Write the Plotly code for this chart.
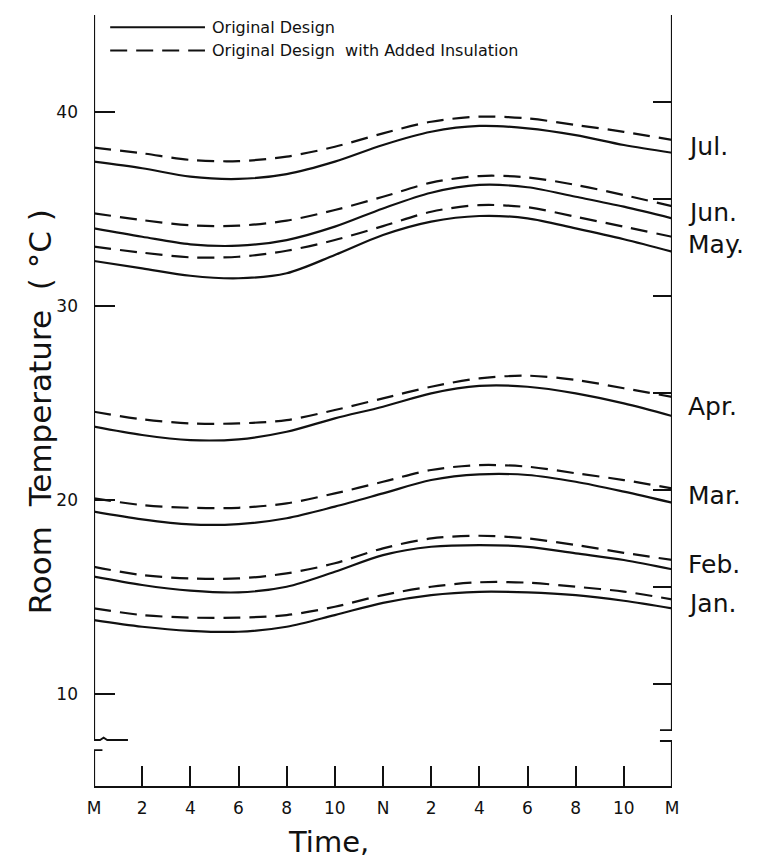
import plotly.graph_objects as go

# ---------------- data ----------------
hours = [0, 2, 4, 6, 8, 10, 12, 14, 16, 18, 20, 22, 24]
x_tick_text = ["M", "2", "4", "6", "8", "10", "N", "2", "4", "6", "8", "10", "M"]
y_tick_vals = [10, 20, 30, 40]
right_tick_vals = [10, 15, 20, 25, 30, 35, 40]

months = ["Jul.", "Jun.", "May.", "Apr.", "Mar.", "Feb.", "Jan."]

jul_orig = [37.44, 37.10, 36.67, 36.55, 36.80, 37.44, 38.30, 38.98, 39.28, 39.16, 38.81, 38.30, 37.90]
jul_ins  = [38.16, 37.87, 37.53, 37.47, 37.70, 38.21, 38.90, 39.50, 39.76, 39.67, 39.33, 38.98, 38.56]
jun_orig = [34.00, 33.57, 33.18, 33.11, 33.40, 34.09, 35.03, 35.84, 36.24, 36.12, 35.63, 35.12, 34.52]
jun_ins  = [34.78, 34.43, 34.16, 34.14, 34.40, 34.95, 35.63, 36.36, 36.70, 36.63, 36.24, 35.72, 35.15]
may_orig = [32.32, 31.94, 31.56, 31.43, 31.69, 32.63, 33.66, 34.35, 34.64, 34.52, 34.00, 33.44, 32.80]
may_ins  = [33.06, 32.75, 32.51, 32.54, 32.85, 33.40, 34.12, 34.86, 35.20, 35.09, 34.60, 34.09, 33.57]
apr_orig = [23.78, 23.35, 23.09, 23.13, 23.52, 24.21, 24.81, 25.50, 25.88, 25.84, 25.50, 24.98, 24.33]
apr_ins  = [24.55, 24.16, 23.95, 23.95, 24.12, 24.64, 25.24, 25.84, 26.27, 26.41, 26.19, 25.76, 25.32]
mar_orig = [19.40, 19.00, 18.74, 18.76, 19.06, 19.66, 20.34, 21.03, 21.32, 21.29, 20.94, 20.43, 19.86]
mar_ins  = [20.09, 19.74, 19.60, 19.60, 19.83, 20.34, 20.94, 21.55, 21.80, 21.72, 21.38, 21.03, 20.60]
feb_orig = [16.05, 15.62, 15.33, 15.24, 15.53, 16.30, 17.16, 17.59, 17.68, 17.59, 17.25, 16.91, 16.43]
feb_ins  = [16.56, 16.13, 15.96, 15.96, 16.22, 16.74, 17.51, 18.02, 18.16, 18.02, 17.68, 17.28, 16.91]
jan_orig = [13.81, 13.47, 13.26, 13.21, 13.47, 14.07, 14.70, 15.10, 15.27, 15.24, 15.10, 14.81, 14.42]
jan_ins  = [14.42, 14.07, 13.94, 13.94, 14.07, 14.50, 15.10, 15.53, 15.76, 15.74, 15.53, 15.28, 14.88]

series_orig = [jul_orig, jun_orig, may_orig, apr_orig, mar_orig, feb_orig, jan_orig]
series_ins = [jul_ins, jun_ins, may_ins, apr_ins, mar_ins, feb_ins, jan_ins]

legend_labels = ["Original Design", "Original Design  with Added Insulation"]

# ---------------- figure ----------------
FONT = "DejaVu Sans"
INK = "#111111"
Y_RANGE = [5.26, 45.0]
X_RANGE = [0, 24]
DASH = "17px,9px"

fig = go.Figure()

for o, i, m in zip(series_orig, series_ins, months):
    fig.add_trace(go.Scatter(
        x=hours, y=i, mode="lines", name=m + " insulated",
        line=dict(color=INK, width=2.2, dash=DASH, shape="spline", smoothing=0.9),
        showlegend=False, hoverinfo="skip"))
    fig.add_trace(go.Scatter(
        x=hours, y=o, mode="lines", name=m + " original",
        line=dict(color=INK, width=2.2, shape="spline", smoothing=0.9),
        showlegend=False, hoverinfo="skip"))

# empty trace so the right-hand tick axis is drawn
fig.add_trace(go.Scatter(x=[], y=[], yaxis="y2", showlegend=False, hoverinfo="skip"))

# month labels at the right end of each pair of curves
annotations = []
for o, i, m in zip(series_orig, series_ins, months):
    annotations.append(dict(
        x=1.0, xref="paper", xshift=14, y=(o[-1] + i[-1]) / 2, yref="y",
        text=m, showarrow=False, xanchor="left", yanchor="middle",
        font=dict(family=FONT, size=25, color=INK)))

# axis titles
annotations.append(dict(
    x=-0.093, xref="paper", y=0.485, yref="paper",
    text="Room  Temperature  ( °C )", textangle=-90, showarrow=False,
    xanchor="center", yanchor="middle",
    font=dict(family=FONT, size=31, color=INK)))
annotations.append(dict(
    x=0.405, xref="paper", y=-0.072, yref="paper",
    text="Time,", showarrow=False, xanchor="center", yanchor="middle",
    font=dict(family=FONT, size=29, color=INK)))

# legend (drawn by hand: long sample lines)
leg_y = [0.984, 0.954]
for lab, ly in zip(legend_labels, leg_y):
    annotations.append(dict(
        x=0.2, xref="paper", y=ly, yref="paper", text=lab, showarrow=False,
        xanchor="left", yanchor="middle",
        font=dict(family=FONT, size=16, color=INK)))

shapes = []
for ly, dash in zip(leg_y, ["solid", DASH]):
    shapes.append(dict(type="line", xref="paper", yref="paper",
                       x0=0.028, x1=0.192, y0=ly, y1=ly,
                       line=dict(color=INK, width=2, dash=dash)))

# vertical axis lines with breaks
LB_UP, LB_LO = 7.63, 7.11
RB_UP, RB_LO = 8.14, 7.58
axis_line = dict(color=INK, width=2.2)
shapes += [
    dict(type="line", xref="x", yref="y", x0=0, x1=0, y0=Y_RANGE[1], y1=LB_UP, line=axis_line),
    dict(type="line", xref="x", yref="y", x0=0, x1=0, y0=LB_LO, y1=Y_RANGE[0], line=axis_line),
    dict(type="line", xref="x", yref="y", x0=24, x1=24, y0=Y_RANGE[1] + 0.2, y1=RB_UP, line=axis_line),
    dict(type="line", xref="x", yref="y", x0=24, x1=24, y0=RB_LO, y1=Y_RANGE[0], line=axis_line),
    # break marks
    dict(type="path", xref="x", yref="y",
         path=f"M -0.58,{LB_UP} L 0.25,{LB_UP} L 0.4,{LB_UP + 0.12} L 0.55,{LB_UP} L 1.41,{LB_UP}",
         line=dict(color=INK, width=1.8)),
    dict(type="path", xref="x", yref="y",
         path=f"M -0.95,{LB_LO + 0.1} L -0.8,{LB_LO - 0.1} L -0.7,{LB_LO} L 0.35,{LB_LO}",
         line=dict(color=INK, width=1.8)),
    dict(type="path", xref="x", yref="y",
         path=f"M 23.5,{RB_UP} L 24.15,{RB_UP} L 24.3,{RB_UP + 0.1} L 24.45,{RB_UP} L 25.16,{RB_UP}",
         line=dict(color=INK, width=1.8)),
    dict(type="path", xref="x", yref="y",
         path=f"M 23.5,{RB_LO} L 24.2,{RB_LO} L 24.35,{RB_LO + 0.1} L 24.5,{RB_LO} L 25.37,{RB_LO}",
         line=dict(color=INK, width=1.8)),
]

# the page adds an 8px body margin, so the figure is 8px smaller than the window
fig.update_layout(
    width=751, height=855,
    margin=dict(l=86, r=87, t=7, b=77),
    paper_bgcolor="white", plot_bgcolor="white",
    showlegend=False,
    font=dict(family=FONT, color=INK),
    xaxis=dict(
        range=X_RANGE, tickmode="array", tickvals=hours, ticktext=x_tick_text,
        ticks="inside", ticklen=20, tickwidth=2, tickcolor=INK,
        showline=True, linecolor=INK, linewidth=2.2, mirror=False,
        showgrid=False, zeroline=False, ticklabelstandoff=5,
        tickfont=dict(family=FONT, size=17, color=INK)),
    yaxis=dict(
        range=Y_RANGE, tickmode="array", tickvals=y_tick_vals,
        ticks="inside", ticklen=21, tickwidth=2, tickcolor=INK,
        showline=False, showgrid=False, zeroline=False, ticklabelstandoff=15,
        tickfont=dict(family=FONT, size=17, color=INK)),
    yaxis2=dict(
        range=[Y_RANGE[0] - 0.5, Y_RANGE[1] - 0.5], overlaying="y", side="right",
        tickmode="array", tickvals=right_tick_vals,
        ticks="inside", ticklen=19, tickwidth=2, tickcolor=INK,
        showticklabels=False, showline=False, showgrid=False, zeroline=False),
    annotations=annotations,
    shapes=shapes,
)

fig.write_html("out.html")
